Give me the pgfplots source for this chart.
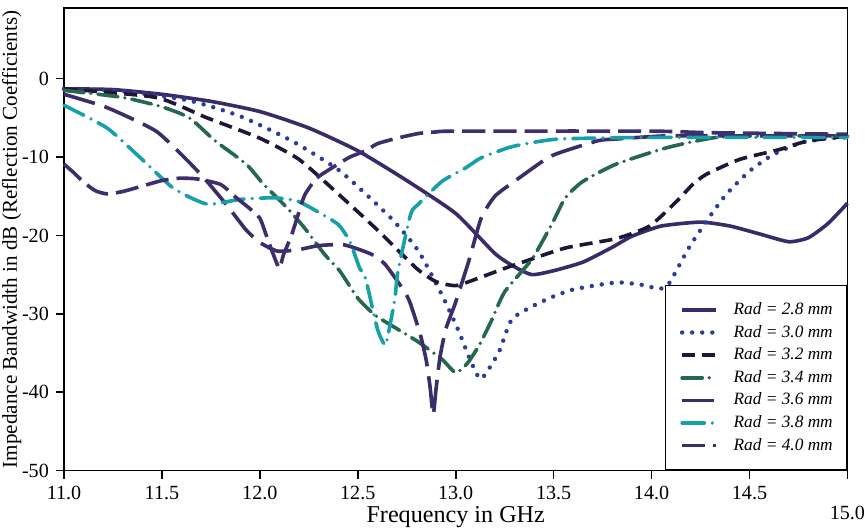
\documentclass[border=0pt]{standalone}
\usepackage{fontspec}
\setmainfont{Liberation Serif}
\usepackage{pgfplots}
\pgfplotsset{compat=1.18}

\definecolor{cA}{RGB}{58,42,104}
\definecolor{cB}{RGB}{45,60,150}
\definecolor{cC}{RGB}{30,24,56}
\definecolor{cD}{RGB}{38,104,78}
\definecolor{cE}{RGB}{60,44,104}
\definecolor{cF}{RGB}{22,160,168}
\definecolor{cG}{RGB}{62,46,110}

\begin{document}
\begin{tikzpicture}
\begin{axis}[
    scale only axis,
    width=389.5pt, height=230pt,
    xmin=11, xmax=15, ymin=-50, ymax=9,
    clip=false,
    xtick={11,11.5,12,12.5,13,13.5,14,14.5,15},
    xticklabels={11.0,11.5,12.0,12.5,13.0,13.5,14.0,14.5,{\vphantom{1}\\[-2pt]15.0}},
    xticklabel style={align=center, inner xsep=0pt},
    ytick={-50,-40,-30,-20,-10,0},
    /pgf/number format/assume math mode=true,
    ticklabel style={font=\fontsize{10}{12}\selectfont},
    tick align=outside,
    xtick pos=left, ytick pos=left,
    major tick length=4pt,
    axis line style={line width=0.8pt},
    tick style={line width=0.8pt, black},
    xlabel={Frequency in GHz},
    ylabel={Impedance Bandwidth in dB (Reflection Coefficients)},
    xlabel style={font=\fontsize{12}{14}\selectfont, at={([yshift=-23pt]rel axis cs:0.5,0)}, anchor=center, inner sep=1pt},
    ylabel style={font=\fontsize{10.5}{12}\selectfont, at={([xshift=-26pt]rel axis cs:0,0.5)}, anchor=center, inner sep=1pt},
    legend cell align=left,
    legend style={
        at={(rel axis cs:1,0)}, anchor=south east,
        draw=black, line width=0.6pt, fill=white,
        font=\fontsize{8.6}{10}\selectfont,
        inner xsep=7pt, inner ysep=6.5pt, row sep=0pt,
        nodes={inner xsep=0pt, inner ysep=0pt, minimum height=11.25pt},
        /tikz/every odd column/.append style={column sep=7.5pt},
    },
    legend image code/.code={\draw[#1] (0pt,0pt) -- (17pt,0pt);},
    every axis plot/.append style={line width=1.8pt, smooth, tension=0.35},
]
% Rad = 2.8 mm
\addplot[cA, solid] coordinates {
(11.0,-1.3) (11.25,-1.4) (11.5,-2.0) (11.75,-2.9) (12.0,-4.2) (12.25,-6.3)
(12.5,-9.2) (12.75,-13.0) (13.0,-17.2) (13.2,-22.3) (13.3,-24.0) (13.39,-25.0)
(13.5,-24.5) (13.65,-23.4) (13.8,-21.5) (13.9,-20.1) (14.05,-18.8) (14.25,-18.3)
(14.4,-18.8) (14.55,-19.8) (14.7,-20.8) (14.8,-20.3) (14.9,-18.5) (15.0,-15.9)
};
\addlegendentry{\textit{Rad = 2.8 mm}}
% Rad = 3.0 mm
\addplot[cB, line width=2.2pt, line cap=round, dash pattern=on 0pt off 5pt] coordinates {
(11.0,-1.3) (11.3,-1.6) (11.64,-2.8) (11.9,-4.8) (12.16,-7.9) (12.41,-11.8)
(12.67,-17.8) (12.81,-22.0) (12.93,-27.6) (13.01,-31.9) (13.08,-36.2) (13.13,-38.3)
(13.22,-34.9) (13.29,-30.6) (13.46,-28.2) (13.6,-26.9) (13.82,-26.0) (13.95,-26.3)
(14.04,-26.8) (14.09,-26.1) (14.19,-21.6) (14.28,-18.2) (14.38,-14.8) (14.5,-11.8)
(14.62,-9.7) (14.76,-8.2) (14.9,-7.6) (15.0,-7.5)
};
\addlegendentry{\textit{Rad = 3.0 mm}}
% Rad = 3.2 mm
\addplot[cC, dash pattern=on 6.5pt off 3.5pt] coordinates {
(11.0,-1.3) (11.47,-2.4) (11.73,-5.0) (12.0,-7.6) (12.2,-10.3) (12.4,-14.7)
(12.6,-19.3) (12.8,-24.2) (12.9,-25.9) (13.0,-26.4) (13.1,-25.6) (13.25,-24.2)
(13.32,-23.6) (13.56,-21.6) (13.82,-20.4) (13.99,-18.8) (14.13,-15.6) (14.21,-13.5)
(14.28,-12.2) (14.45,-10.3) (14.66,-9.0) (14.79,-8.0) (15.0,-7.3)
};
\addlegendentry{\textit{Rad = 3.2 mm}}
% Rad = 3.4 mm
\addplot[cD, dash pattern=on 10pt off 3.5pt on 0pt off 3.5pt, line cap=round] coordinates {
(11.0,-1.5) (11.3,-2.4) (11.5,-3.6) (11.64,-5.0) (11.77,-7.9) (11.93,-10.9)
(12.02,-13.5) (12.14,-16.5) (12.23,-19.1) (12.33,-22.4) (12.41,-24.6) (12.5,-28.0)
(12.59,-30.2) (12.7,-31.9) (12.81,-33.6) (12.93,-35.8) (13.0,-37.5) (13.06,-36.3)
(13.12,-34.0) (13.18,-31.0) (13.25,-27.2) (13.39,-23.0) (13.49,-18.6) (13.56,-15.2)
(13.65,-13.1) (13.82,-10.9) (14.08,-8.8) (14.33,-7.5) (14.6,-7.3) (15.0,-7.3)
};
\addlegendentry{\textit{Rad = 3.4 mm}}
% Rad = 3.6 mm
\addplot[cE, dash pattern=on 16pt off 5pt] coordinates {
(11.0,-2.0) (11.22,-3.7) (11.47,-6.7) (11.64,-10.7) (11.73,-13.1) (11.83,-16.1)
(11.93,-19.3) (12.0,-20.9) (12.09,-22.0) (12.2,-21.8) (12.3,-21.3) (12.43,-21.2)
(12.57,-22.4) (12.64,-23.7) (12.74,-27.2) (12.77,-28.8) (12.82,-32.7) (12.85,-36.0)
(12.87,-39.5) (12.885,-42.9) (12.9,-39.5) (12.92,-35.5) (12.95,-31.9) (13.0,-28.5)
(13.07,-23.0) (13.13,-17.8) (13.2,-15.0) (13.3,-13.1) (13.47,-10.1) (13.56,-9.2)
(13.73,-7.9) (13.82,-7.7) (14.08,-7.3) (14.5,-7.3) (15.0,-7.3)
};
\addlegendentry{\textit{Rad = 3.6 mm}}
% Rad = 3.8 mm
\addplot[cF, dash pattern=on 11pt off 4pt on 0pt off 4pt, line cap=round] coordinates {
(11.0,-3.4) (11.22,-6.3) (11.39,-10.1) (11.56,-14.0) (11.73,-16.0) (11.9,-15.4)
(12.07,-15.2) (12.19,-15.6) (12.29,-16.9) (12.4,-18.6) (12.46,-20.8) (12.51,-24.2)
(12.54,-25.5) (12.6,-31.9) (12.64,-34.0) (12.66,-32.0) (12.69,-28.0) (12.705,-24.6)
(12.77,-17.3) (12.81,-16.0) (12.93,-13.1) (13.05,-11.4) (13.13,-10.1) (13.27,-8.8)
(13.36,-8.3) (13.53,-7.7) (14.0,-7.5) (15.0,-7.5)
};
\addlegendentry{\textit{Rad = 3.8 mm}}
% Rad = 4.0 mm
\addplot[cG, dash pattern=on 11.5pt off 4pt] coordinates {
(11.0,-10.9) (11.05,-12.0) (11.1,-13.2) (11.16,-14.3) (11.22,-14.7) (11.3,-14.4)
(11.4,-13.7) (11.5,-13.0) (11.59,-12.7) (11.68,-12.8) (11.8,-13.5) (11.88,-15.2)
(11.94,-16.4) (12.0,-17.8) (12.04,-20.5) (12.07,-22.5) (12.1,-24.2) (12.12,-22.5)
(12.16,-20.1) (12.2,-17.0) (12.23,-14.8) (12.29,-12.7) (12.38,-11.2) (12.46,-10.0)
(12.54,-9.2) (12.6,-8.3) (12.7,-7.6) (12.81,-7.0) (12.9,-6.8) (13.0,-6.7)
(14.0,-6.7) (14.3,-6.9) (15.0,-7.1)
};
\addlegendentry{\textit{Rad = 4.0 mm}}
\path (rel axis cs:0,1) -- ++(0pt,4pt);
\end{axis}
\end{tikzpicture}
\end{document}
